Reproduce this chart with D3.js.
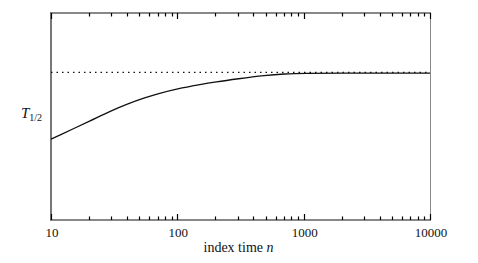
<!DOCTYPE html>
<html lang="en">
<head>
<meta charset="utf-8">
<title>T half vs index time</title>
<script src="https://d3js.org/d3.v7.min.js"></script>
<style>
  body { margin: 0; background: #fff; }
  svg text { font-family: 'Liberation Serif', 'DejaVu Serif', serif; fill: #111; }
</style>
</head>
<body>
<div id="chart"></div>
<script>
// values (y in fraction of the axis height)
var nValues = [10, 12, 15, 20, 30, 40, 55, 70, 100, 150, 200, 300, 500, 700, 1000, 2000, 5000, 10000];
var tHalf   = [0.391, 0.413, 0.441, 0.476, 0.528, 0.560, 0.590, 0.610, 0.634, 0.654, 0.667, 0.682, 0.699, 0.706, 0.709, 0.710, 0.710, 0.710];
var limitValue = 0.713;
var tickLabels = [10, 100, 1000, 10000];

var W = 478, H = 263;
var margin = {left: 51, right: 48, top: 13, bottom: 43};

var svg = d3.select("#chart").append("svg")
    .attr("width", W).attr("height", H);

var x = d3.scaleLog().domain([10, 10000]).range([margin.left, W - margin.right]);
var y = d3.scaleLinear().domain([0, 1]).range([H - margin.bottom, margin.top]);

var x0 = x.range()[0], x1 = x.range()[1], y0 = y.range()[0], y1 = y.range()[1];

// frame
svg.append("line").attr("x1", x1 + 0.5).attr("x2", x1 + 0.5).attr("y1", y1).attr("y2", y0)
    .attr("stroke", "#888").attr("stroke-width", 1);
svg.append("line").attr("x1", x0).attr("x2", x0).attr("y1", y1 - 1).attr("y2", y0 + 1)
    .attr("stroke", "#777").attr("stroke-width", 2);
svg.append("line").attr("x1", x0).attr("x2", x1 + 1).attr("y1", y0).attr("y2", y0)
    .attr("stroke", "#888").attr("stroke-width", 2);
svg.append("line").attr("x1", x0).attr("x2", x1 + 1).attr("y1", y1).attr("y2", y1)
    .attr("stroke", "#888").attr("stroke-width", 2);

// ticks, inward on bottom and top
x.ticks().forEach(function(t) {
  var major = tickLabels.indexOf(t) >= 0;
  var len = major ? 6 : 3.5;
  var px = Math.round(x(t)) + 0.5;
  svg.append("line").attr("x1", px).attr("x2", px).attr("y1", y0).attr("y2", y0 - len)
      .attr("stroke", "#000").attr("stroke-width", 1.2);
  svg.append("line").attr("x1", px).attr("x2", px).attr("y1", y1).attr("y2", y1 + len)
      .attr("stroke", "#000").attr("stroke-width", 1.2);
});

svg.selectAll("text.tick").data(tickLabels).enter().append("text")
    .attr("class", "tick")
    .attr("x", function(d) { return x(d) + 1; })
    .attr("y", y0 + 17)
    .attr("text-anchor", "middle")
    .attr("font-size", "13px")
    .text(function(d) { return d; });

// axis labels
var xl = svg.append("text")
    .attr("x", (x0 + x1) / 2 - 2).attr("y", 252)
    .attr("text-anchor", "middle").attr("font-size", "14px");
xl.append("tspan").text("index time ");
xl.append("tspan").attr("font-style", "italic").text("n");

var yl = svg.append("text").attr("x", 21).attr("y", 118).attr("font-size", "15px");
yl.append("tspan").attr("font-style", "italic").text("T");
yl.append("tspan").attr("font-size", "10px").attr("dy", 3).text("1/2");

// limit (dotted)
svg.append("line")
    .attr("x1", x0).attr("x2", x1)
    .attr("y1", y(limitValue)).attr("y2", y(limitValue))
    .attr("stroke", "#111").attr("stroke-width", 1.4)
    .attr("stroke-dasharray", "1.5,4");

// curve
var line = d3.line()
    .x(function(d, i) { return x(nValues[i]); })
    .y(function(d) { return y(d); })
    .curve(d3.curveBasis);

svg.append("path")
    .datum(tHalf)
    .attr("d", line)
    .attr("fill", "none")
    .attr("stroke", "#111")
    .attr("stroke-width", 1.3);
</script>
</body>
</html>
